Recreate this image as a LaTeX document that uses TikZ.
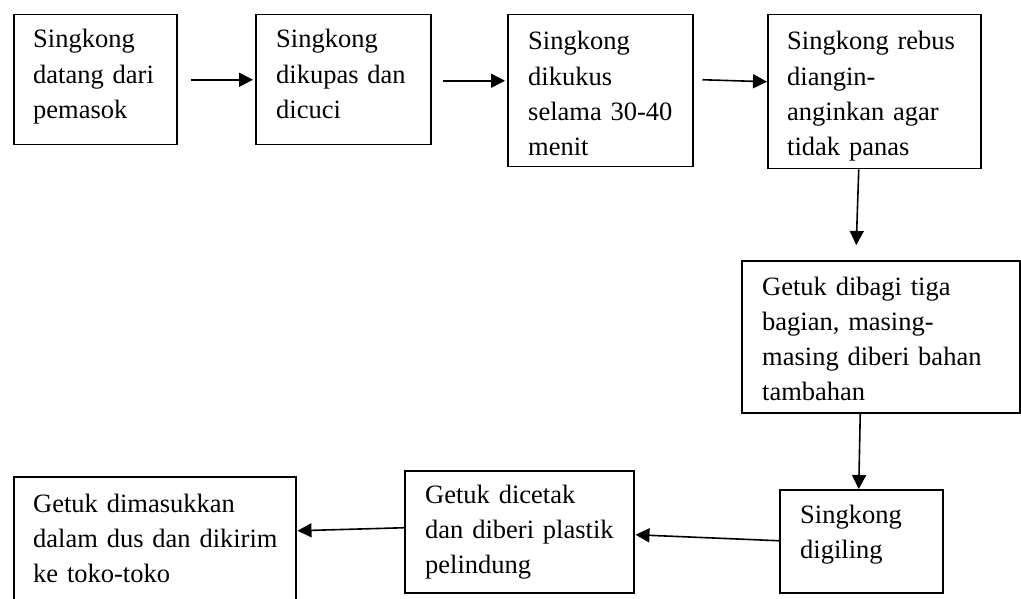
\documentclass[tikz,border=0pt]{standalone}
\usepackage{fontspec}
\setmainfont{Liberation Serif}
\usetikzlibrary{arrows.meta,calc}
\begin{document}
\begin{tikzpicture}[x=1pt,y=-1pt,
  box/.style={draw=black,line width=1.5pt,rectangle,inner sep=0pt,anchor=north west},
  txt/.style={anchor=base west,inner sep=0pt,text width=300pt,align=left,font=\fontsize{26.5}{35.3}\selectfont},
  arr/.style={line width=1.6pt,-{Triangle[length=14pt,width=14pt]}}]
\useasboundingbox (0,0) rectangle (1021,599);
\clip (0,0) rectangle (1021,599);
\fill[white] (0,0) rectangle (1021,599);
% boxes
\node[box,minimum width=163pt,minimum height=130pt] (b1) at (13,14) {};
\node[box,minimum width=175pt,minimum height=130pt] (b2) at (255,14) {};
\node[box,minimum width=185pt,minimum height=152pt] (b3) at (507,14) {};
\node[box,minimum width=213pt,minimum height=154pt] (b4) at (767,14) {};
\node[box,minimum width=278pt,minimum height=152pt] (b5) at (741,260) {};
\node[box,minimum width=163pt,minimum height=103pt] (b6) at (779,489) {};
\node[box,minimum width=229pt,minimum height=122pt] (b7) at (404,470) {};
\node[box,minimum width=282pt,minimum height=150pt] (b8) at (13,476) {};
% texts
\node[txt] (t1) at (33,48) {Singkong\\datang dari\\pemasok};
\node[txt] (t2) at (276,48) {Singkong\\dikupas dan\\dicuci};
\node[txt] (t3) at (528,50) {Singkong\\dikukus\\selama 30-40\\menit};
\node[txt] (t4) at (787,50) {Singkong rebus\\diangin-\\anginkan agar\\tidak panas};
\node[txt] (t5) at (762,295) {Getuk dibagi tiga\\bagian, masing-\\masing diberi bahan\\tambahan};
\node[txt] (t6) at (800,523) {Singkong\\digiling};
\node[txt] (t7) at (425,503) {Getuk dicetak\\dan diberi plastik\\pelindung};
\node[txt] (t8) at (33,512) {Getuk dimasukkan\\dalam dus dan dikirim\\ke toko-toko};
% connectors
\draw[arr] ($(b1.east)+(13,0)$) -- ($(b2.west)+(-2,0)$);
\draw[arr] ($(b2.east)+(11,1)$) -- ($(b3.west)+(-2,-10)$);
\draw[arr] ($(b3.east)+(9,-11)$) -- ($(b4.west)+(0,-10)$);
\draw[arr] ($(b4.south)+(-15.5,0)$) -- ($(b5.north)+(-24.5,-15)$);
\draw[arr] ($(b5.south)+(-20.5,0)$) -- ($(b6.north)+(-2.5,0)$);
\draw[arr] ($(b6.west)+(0,-0.5)$) -- ($(b7.east)+(1,3)$);
\draw[arr] ($(b7.west)+(0,-4)$) -- ($(b8.east)+(1,-21)$);
\end{tikzpicture}
\end{document}
